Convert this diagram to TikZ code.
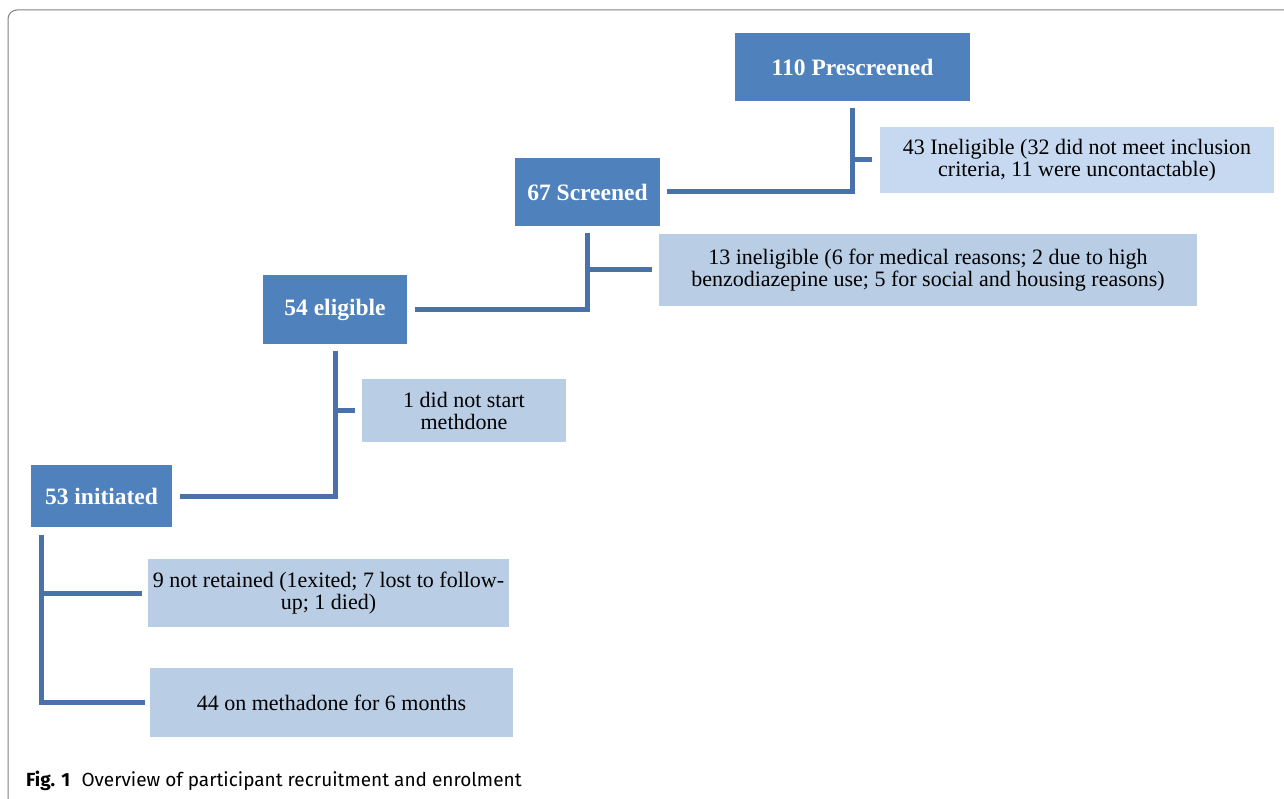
\documentclass[tikz,border=0pt]{standalone}
\usepackage{fontspec}
\setmainfont{Liberation Serif}
\newfontfamily\capfont{Fira Sans}
\usepackage{tikz}

\definecolor{boxblue}{HTML}{4F81BD}
\definecolor{linkblue}{HTML}{4872A9}
\definecolor{paleblue}{HTML}{C6D9F1}
\definecolor{sideblue}{HTML}{B9CDE5}

\begin{document}
\begin{tikzpicture}[x=1pt,y=-1pt,
  mainbox/.style={fill=boxblue, text=white, inner sep=0pt,
    font=\fontsize{23.5}{26}\selectfont\bfseries},
  sidebox/.style={fill=sideblue, inner sep=0pt, align=center,
    font=\fontsize{22}{22}\selectfont},
  link/.style={draw=linkblue, line width=5pt}]
\useasboundingbox (0,0) rectangle (1284,799);
\draw[gray, line width=1pt, rounded corners=9pt] (8,810) -- (8,10) -- (1295,10);

\node[mainbox, minimum width=235pt, minimum height=68pt] (pre) at (852.5,67) {110 Prescreened};
\node[mainbox, minimum width=145pt, minimum height=68pt] (scr) at (587.5,192) {67 Screened};
\node[mainbox, minimum width=144pt, minimum height=69pt] (elig) at (335,309.5) {54 eligible};
\node[mainbox, minimum width=141pt, minimum height=62pt] (init) at (101.5,496) {53 initiated};

\node[sidebox, fill=paleblue, minimum width=394pt, minimum height=66pt] (inel43) at (1077,160)
  {43 Ineligible (32 did not meet inclusion\\criteria, 11 were uncontactable)};
\node[sidebox, minimum width=538pt, minimum height=72pt] (inel13) at (928,270)
  {13 ineligible (6 for medical reasons; 2 due to high\\benzodiazepine use; 5 for social and housing reasons)};
\node[sidebox, minimum width=204pt, minimum height=63pt] (nostart) at (464,410.5)
  {1 did not start\\methdone};
\node[sidebox, minimum width=361pt, minimum height=68pt] (notret) at (328.5,593)
  {9 not retained (1exited; 7 lost to follow-\\up; 1 died)};
\node[sidebox, minimum width=363pt, minimum height=69pt] (onmeth) at (331.5,702.5)
  {44 on methadone for 6 months};

% connectors
\draw[link, shorten <=7pt, shorten >=7pt] (pre.south) |- (scr.east);
\draw[link, shorten >=8pt] (pre.south |- inel43.west) -- (inel43.west);
\draw[link, shorten <=7pt, shorten >=8pt] (scr.south) |- (elig.east);
\draw[link, shorten >=7pt] (scr.south |- inel13.west) -- (inel13.west);
\draw[link, shorten <=7pt, shorten >=8pt] (elig.south) |- (init.east);
\draw[link, shorten >=7pt] (elig.south |- nostart.west) -- (nostart.west);
\coordinate (initdrop) at ([xshift=11pt]init.south west);
\draw[link, shorten <=8pt, shorten >=5pt] (initdrop) |- (onmeth.west);
\draw[link, shorten >=6pt] (initdrop |- notret.west) -- (notret.west);

\node[anchor=base west, inner sep=0pt, font=\capfont\fontsize{19}{22}\selectfont] (cap) at (26,786)
  {\textbf{Fig. 1}\hspace{0.6em}Overview of participant recruitment and enrolment};
\end{tikzpicture}
\end{document}
